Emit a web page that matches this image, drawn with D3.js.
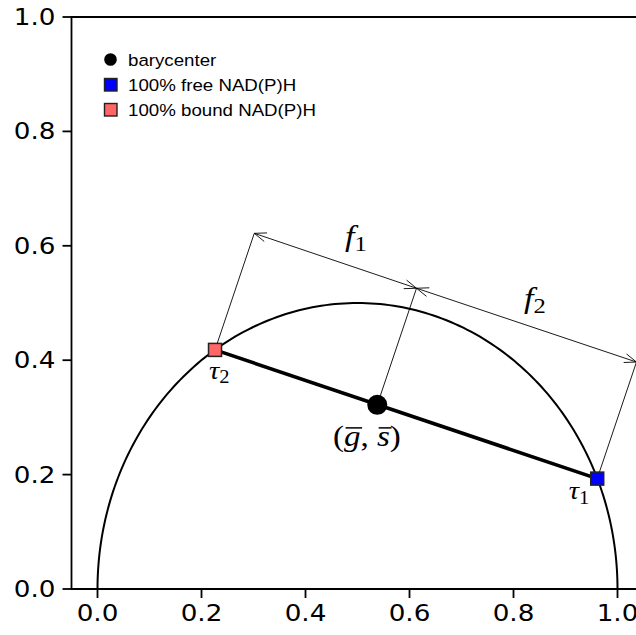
<!DOCTYPE html>
<html><head><meta charset="utf-8">
<script src="https://cdn.jsdelivr.net/npm/d3@7"></script>
<style>
html,body{margin:0;padding:0;background:#fff;overflow:hidden}
svg{display:block}
</style></head>
<body>
<svg id="c" width="636" height="635"></svg>
<script>
// ---- data ----
const xTicks = [0.0, 0.2, 0.4, 0.6, 0.8, 1.0];
const yTicks = [0.0, 0.2, 0.4, 0.6, 0.8, 1.0];
const tauFree = [0.961, 0.193];      // 100% free NAD(P)H  (tau1)
const tauBound = [0.226, 0.418];     // 100% bound NAD(P)H (tau2)
const barycenter = [0.538, 0.322];
const legendLabels = ["barycenter", "100% free NAD(P)H", "100% bound NAD(P)H"];
const legendColors = ["#000000", "#0000ff", "#ff6666"];

const SX = 1.14; // horizontal text stretch seen in the reference
const svg = d3.select("#c");
const x = d3.scaleLinear().domain([0, 1]).range([97.5, 617.5]);
const y = d3.scaleLinear().domain([0, 1]).range([589, 17]);
const xLeft = x(-0.05), xRight = x(1.05);

function stretch(t, px, py) {
  t.attr("x", 0).attr("y", 0).attr("transform", `translate(${px},${py}) scale(${SX},1)`);
  return t;
}

// axes
const fmt = d3.format(".1f");
const axisG = svg.append("g").attr("stroke", "#000").attr("stroke-width", 1.8);
xTicks.forEach(v => {
  axisG.append("line").attr("x1", x(v)).attr("x2", x(v)).attr("y1", y(0)).attr("y2", y(0) + 9);
  stretch(svg.append("text").attr("text-anchor", "middle").attr("font-family", "DejaVu Sans")
    .attr("font-size", 23).attr("fill", "#000").text(fmt(v)), x(v), y(0) + 9 + 6 + 17);
});
yTicks.forEach(v => {
  axisG.append("line").attr("x1", xLeft - 9).attr("x2", xLeft).attr("y1", y(v)).attr("y2", y(v));
  stretch(svg.append("text").attr("text-anchor", "end").attr("font-family", "DejaVu Sans")
    .attr("font-size", 23).attr("dy", "0.35em").attr("fill", "#000").text(fmt(v)), xLeft - 9 - 7, y(v));
});
// spines: left, bottom, top
axisG.append("line").attr("x1", xLeft).attr("x2", xLeft).attr("y1", y(0)).attr("y2", y(1));
axisG.append("line").attr("x1", xLeft - 0.9).attr("x2", xRight).attr("y1", y(0)).attr("y2", y(0));
axisG.append("line").attr("x1", xLeft - 0.9).attr("x2", xRight).attr("y1", y(1)).attr("y2", y(1));

// universal semicircle
const circ = d3.range(0, 181).map(a => {
  const t = a * Math.PI / 180;
  return [0.5 + 0.5 * Math.cos(t), 0.5 * Math.sin(t)];
});
svg.append("path").datum(circ)
  .attr("d", d3.line().x(d => x(d[0])).y(d => y(d[1])))
  .attr("fill", "none").attr("stroke", "#000").attr("stroke-width", 2);

// pixel helpers
const P = d => [x(d[0]), y(d[1])];
const p1 = P(tauFree), p2 = P(tauBound), pb = P(barycenter);
let dx = p1[0] - p2[0], dy = p1[1] - p2[1];
const len = Math.hypot(dx, dy); dx /= len; dy /= len;
const perp = [dy, -dx];
const L = 123;
const tip = p => [p[0] + perp[0] * L, p[1] + perp[1] * L];
const t1 = tip(p1), t2 = tip(p2), tb = tip(pb);

const thin = svg.append("g").attr("stroke", "#000").attr("stroke-width", 0.9).attr("fill", "none");
[[p2, t2], [pb, tb], [p1, t1]].forEach(([a, b]) => {
  thin.append("line").attr("x1", a[0]).attr("y1", a[1]).attr("x2", b[0]).attr("y2", b[1]);
});
function dblArrow(a, b) {
  thin.append("line").attr("x1", a[0]).attr("y1", a[1]).attr("x2", b[0]).attr("y2", b[1]);
  const ux = (b[0] - a[0]), uy = (b[1] - a[1]); const l = Math.hypot(ux, uy);
  const u = [ux / l, uy / l], n = [-u[1], u[0]];
  const hl = 12, hw = 4.5;
  const head = (p, s) => {
    const back = [p[0] - s * u[0] * hl, p[1] - s * u[1] * hl];
    thin.append("path").attr("d",
      `M${back[0] + n[0] * hw},${back[1] + n[1] * hw}L${p[0]},${p[1]}L${back[0] - n[0] * hw},${back[1] - n[1] * hw}`);
  };
  head(b, 1); head(a, -1);
}
dblArrow(t2, tb);
dblArrow(tb, t1);

// line between pure species
svg.append("line").attr("x1", p2[0]).attr("y1", p2[1]).attr("x2", p1[0]).attr("y2", p1[1])
  .attr("stroke", "#000").attr("stroke-width", 3.6);

// markers
svg.append("circle").attr("cx", pb[0]).attr("cy", pb[1]).attr("r", 10).attr("fill", "#000");
const sq = 13;
[[p1, legendColors[1]], [p2, legendColors[2]]].forEach(([p, c]) => {
  svg.append("rect").attr("x", p[0] - sq / 2).attr("y", p[1] - sq / 2).attr("width", sq).attr("height", sq)
    .attr("fill", c).attr("stroke", "#222").attr("stroke-width", 1.5);
});

// math labels
const serif = "Liberation Serif";
function mathLabel(cx, cy, sym, sub, size) {
  const t = svg.append("text").attr("text-anchor", "middle")
    .attr("font-family", serif).attr("font-size", size).attr("fill", "#000");
  t.append("tspan").attr("font-style", "italic").text(sym);
  t.append("tspan").attr("font-size", size * 0.72).attr("dy", size * 0.18).text(sub);
  return stretch(t, cx, cy);
}
mathLabel(x(0.497), y(0.600), "f", "1", 30);
mathLabel(x(0.841), y(0.492), "f", "2", 30);
mathLabel(x(0.234), y(0.368), "τ", "2", 25);
mathLabel(x(0.926), y(0.157), "τ", "1", 25);

// (g-bar, s-bar)
const gs = svg.append("text").attr("text-anchor", "middle")
  .attr("font-family", serif).attr("font-size", 29).attr("fill", "#000");
gs.append("tspan").text("(");
gs.append("tspan").attr("font-style", "italic").text("g");
gs.append("tspan").text(", ");
gs.append("tspan").attr("font-style", "italic").text("s");
gs.append("tspan").text(")");
const gsx = x(0.518), gsy = y(0.250);
stretch(gs, gsx, gsy);
const node = gs.node();
[1, 4].forEach(i => {
  const e = node.getExtentOfChar(i);
  const xa = gsx + (e.x + 1.5) * SX, xb = gsx + (e.x + e.width + 1.5) * SX;
  svg.append("line").attr("x1", xa).attr("x2", xb)
    .attr("y1", gsy + e.y + 8).attr("y2", gsy + e.y + 8).attr("stroke", "#000").attr("stroke-width", 1.5);
});

// legend
const lg = svg.append("g");
const rows = [59.5, 85, 110];
legendLabels.forEach((lab, i) => {
  const cy = rows[i];
  if (i === 0) lg.append("circle").attr("cx", 110.5).attr("cy", cy).attr("r", 6.3).attr("fill", "#000");
  else lg.append("rect").attr("x", 104.5).attr("y", cy - 6.5).attr("width", 12.5).attr("height", 12.5)
    .attr("fill", legendColors[i]).attr("stroke", "#222").attr("stroke-width", 1.4);
  const t = lg.append("text").attr("dy", "0.36em")
    .attr("font-family", "Liberation Sans").attr("font-size", 17).attr("fill", "#000").text(lab);
  t.attr("transform", `translate(128,${cy}) scale(1.1,1)`);
});
</script>
</body></html>
